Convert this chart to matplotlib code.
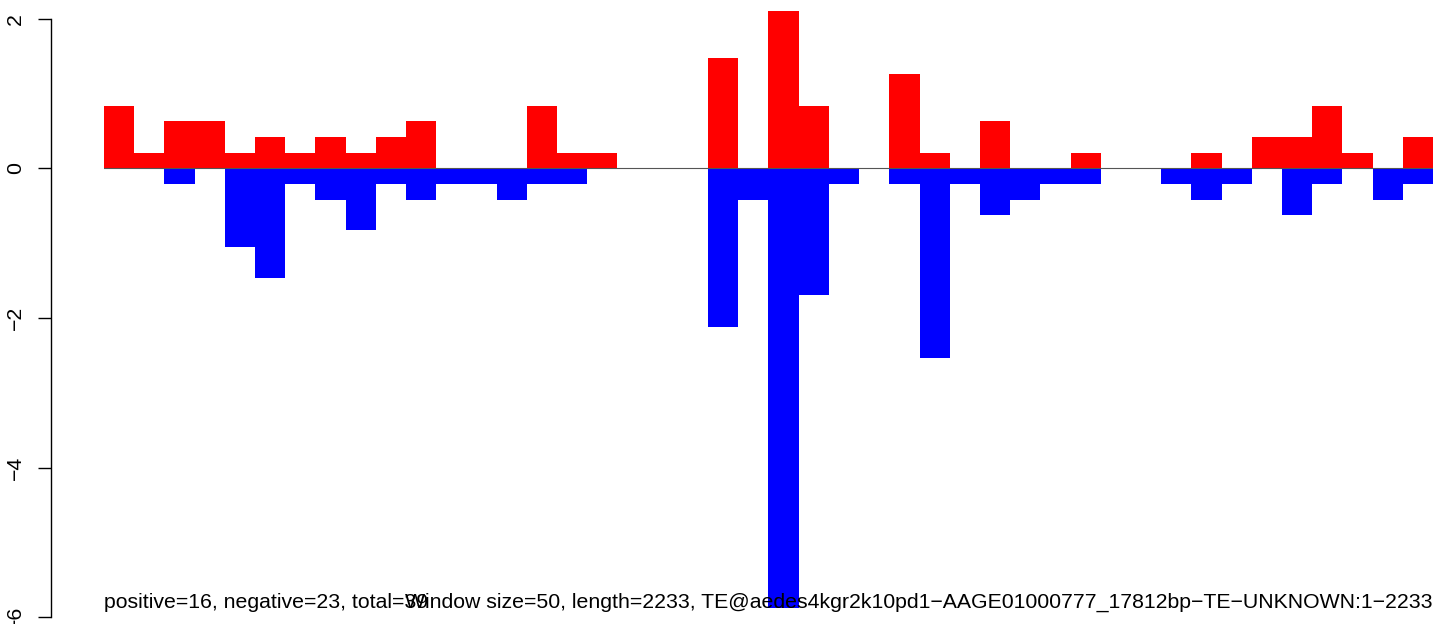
import matplotlib
matplotlib.use("Agg")
import matplotlib.pyplot as plt
import numpy as np

plt.rcParams['font.family'] = ['Liberation Sans', 'DejaVu Sans']

# window values (44 windows of 50 bp)
positive = [0.83, 0.21, 0.63, 0.63, 0.21, 0.42, 0.21, 0.42, 0.21, 0.42, 0.63,
            0.00, 0.00, 0.00, 0.83, 0.21, 0.21, 0.00, 0.00, 0.00, 1.47, 0.00,
            2.10, 0.83, 0.00, 0.00, 1.26, 0.21, 0.00, 0.63, 0.00, 0.00, 0.21,
            0.00, 0.00, 0.00, 0.21, 0.00, 0.42, 0.42, 0.83, 0.21, 0.00, 0.42]
negative = [0.00, 0.00, -0.21, 0.00, -1.05, -1.47, -0.21, -0.42, -0.83, -0.21, -0.42,
            -0.21, -0.21, -0.42, -0.21, -0.21, 0.00, 0.00, 0.00, 0.00, -2.12, -0.42,
            -5.87, -1.69, -0.21, 0.00, -0.21, -2.53, -0.21, -0.63, -0.42, -0.21, -0.21,
            0.00, 0.00, -0.21, -0.42, -0.21, 0.00, -0.63, -0.21, 0.00, -0.42, -0.21]
yticks = [-6, -4, -2, 0, 2]
left_label = "positive=16, negative=23, total=39"
right_label = "Window size=50, length=2233, TE@aedes4kgr2k10pd1\u2212AAGE01000777_17812bp\u2212TE\u2212UNKNOWN:1\u22122233"

W, H, DPI = 1441, 624, 100
fig = plt.figure(figsize=(W / DPI, H / DPI), dpi=DPI)
ax = fig.add_axes([104 / W, 0, 1329 / W, 1])

px_per_unit = 74.85
y0 = 168.3
ax.set_ylim(-(H - y0) / px_per_unit, y0 / px_per_unit)
n = len(positive)
ax.set_xlim(0, n)

x = np.arange(n)
ax.bar(x, positive, width=1.0, align='edge', color='#FF0000', linewidth=0)
ax.bar(x, negative, width=1.0, align='edge', color='#0000FF', linewidth=0)
ax.plot([0, n], [0, 0], color='#555555', linewidth=0.8, zorder=1.5)

ymin = min(negative)
ax.text(0, ymin, left_label, ha='left', va='baseline', fontsize=15.3, color='black')
ax.text(n, ymin, right_label, ha='right', va='baseline', fontsize=15.3, color='black')

for s in ['top', 'right', 'bottom']:
    ax.spines[s].set_visible(False)
ax.spines['left'].set_position(('outward', 53.3 * 72 / DPI))
ax.spines['left'].set_bounds(-6, 2)
ax.spines['left'].set_linewidth(1.0)
ax.set_xticks([])
ax.set_yticks(yticks)
ax.set_yticklabels([str(v).replace('-', '\u2212') for v in yticks])
ax.tick_params(axis='y', direction='out', length=13 * 72 / DPI, width=1.0, pad=9,
               labelsize=15.3)
for lab in ax.get_yticklabels():
    lab.set_rotation(90)
    lab.set_va('center')

fig.savefig('out.png', dpi=DPI)
